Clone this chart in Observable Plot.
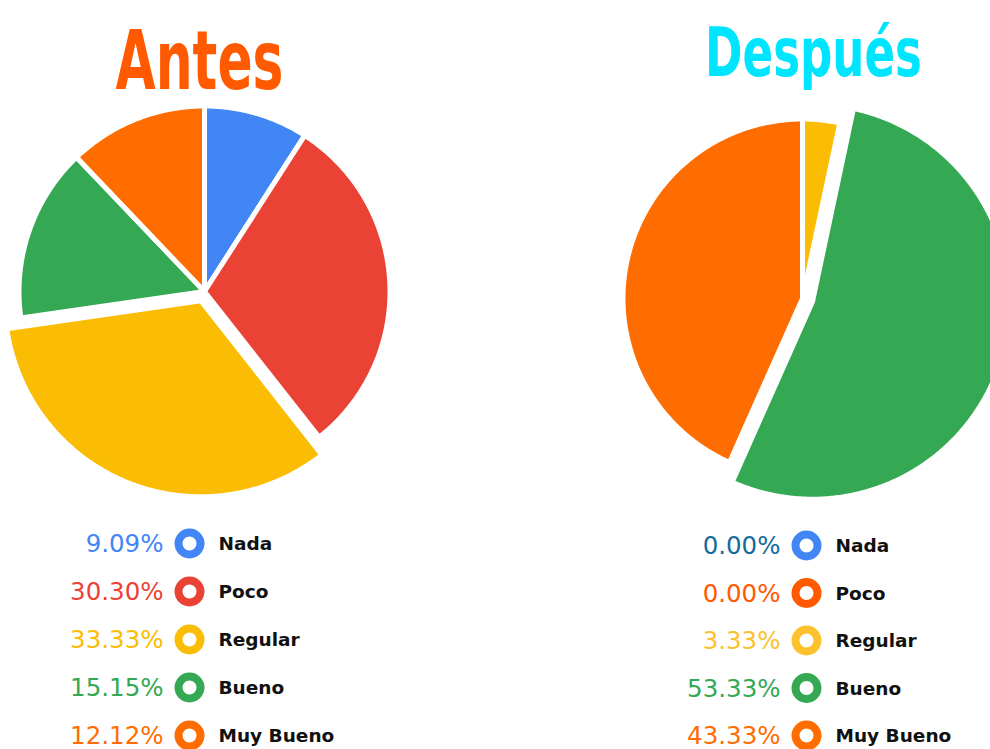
<!DOCTYPE html>
<html><head><meta charset="utf-8">
<script src="https://cdn.jsdelivr.net/npm/d3@7"></script>
<script src="https://cdn.jsdelivr.net/npm/@observablehq/plot@0.6"></script>
<style>html,body{margin:0;padding:0;background:#fff;overflow:hidden}</style>
</head><body><div id="chart"></div>
<script>
// ---- data ----
const categories = ["Nada", "Poco", "Regular", "Bueno", "Muy Bueno"];
const antesValues = [9.09, 30.30, 33.33, 15.15, 12.12];
const despuesValues = [0.00, 0.00, 3.33, 53.33, 43.33];
const antesColors = ["#4285f4", "#ea4335", "#fbbc04", "#34a853", "#ff6d01"];
const despuesColors = ["#4285f4", "#ea4335", "#fbbc04", "#34a853", "#ff6d01"];
const antesDotColors = ["#4285f4", "#ea4335", "#fbbc04", "#34a853", "#ff6d01"];
const despuesDotColors = ["#4285f4", "#ff5a00", "#fdc12e", "#34a853", "#ff6d01"];
const antesPctColors = ["#4285f4", "#ea4335", "#fbbc04", "#34a853", "#ff6d01"];
const despuesPctColors = ["#146c9c", "#ff5a00", "#fdc12e", "#34a853", "#ff6d01"];
const titles = ["Antes", "Después"];
const titleColors = ["#ff5a00", "#00e5ff"];
const explodedSlice = ["Regular", "Bueno"];

// ---- layout ----
const W = 990, H = 749, SW = 5;
const panels = [
  {title: titles[0], tColor: titleColors[0], values: antesValues, colors: antesColors, dots: antesDotColors, pct: antesPctColors,
   cx: 204, cy: 291, r: 183 + SW / 2, rEx: 193.5 + SW / 2, explode: explodedSlice[0], offset: 10,
   tx: 199, ty: 88, tSize: 82, tLen: 168, dotX: 189, row0: 543, rowGap: 48},
  {title: titles[1], tColor: titleColors[1], values: despuesValues, colors: despuesColors, dots: despuesDotColors, pct: despuesPctColors,
   cx: 802, cy: 298, r: 177 + SW / 2, rEx: 195 + SW / 2, explode: explodedSlice[1], offset: 10.5,
   tx: 813, ty: 75, tSize: 67, tLen: 217, dotX: 806, row0: 545, rowGap: 47.5}
];

const slicePts = [];
const legendRows = [];
const titleRows = [];
panels.forEach((p, pi) => {
  titleRows.push({x: p.tx, y: p.ty, text: p.title, color: p.tColor, size: p.tSize, len: p.tLen});
  const arcs = d3.pie().sort(null).value(d => d)(p.values);
  arcs.forEach((a, i) => {
    legendRows.push({
      pct: p.values[i].toFixed(2) + "%", label: categories[i],
      pctColor: p.pct[i], dotColor: p.dots[i],
      dx: p.dotX, y: p.row0 + i * p.rowGap
    });
    if (a.endAngle - a.startAngle <= 0) return;
    const mid = (a.startAngle + a.endAngle) / 2;
    const ex = categories[i] === p.explode;
    const off = ex ? p.offset : 0, R = ex ? p.rEx : p.r;
    const ox = p.cx + off * Math.sin(mid), oy = p.cy - off * Math.cos(mid);
    const id = pi + "-" + i, color = p.colors[i];
    slicePts.push({id, x: ox, y: oy, color});
    const n = Math.max(2, Math.ceil((a.endAngle - a.startAngle) / (Math.PI / 360)));
    for (let k = 0; k <= n; k++) {
      const t = a.startAngle + (a.endAngle - a.startAngle) * k / n;
      slicePts.push({id, x: ox + R * Math.sin(t), y: oy - R * Math.cos(t), color});
    }
    slicePts.push({id, x: ox, y: oy, color});
  });
});

const titleFont = "'DejaVu Sans', sans-serif";
const chart = Plot.plot({
  width: W, height: H, margin: 0,
  x: {domain: [0, W], range: [0, W]},
  y: {domain: [0, H], range: [0, H]},
  color: {type: "identity"},
  axis: null,
  style: {background: "white", overflow: "hidden"},
  marks: [
    Plot.line(slicePts, {x: "x", y: "y", z: "id", fill: "color", stroke: "white", strokeWidth: SW, strokeLinejoin: "round", curve: "linear"}),
    Plot.text(titleRows.slice(0, 1), {x: "x", y: "y", text: "text", fill: "color", fontSize: titleRows[0].size,
      fontFamily: titleFont, fontWeight: "bold", textAnchor: "middle", lineAnchor: "bottom"}),
    Plot.text(titleRows.slice(1), {x: "x", y: "y", text: "text", fill: "color", fontSize: titleRows[1].size,
      fontFamily: titleFont, fontWeight: "bold", textAnchor: "middle", lineAnchor: "bottom"}),
    Plot.text(legendRows, {x: d => d.dx - 26, y: "y", text: "pct", fill: "pctColor", fontSize: 24.5,
      fontFamily: "DejaVu Sans", textAnchor: "end", lineAnchor: "middle", dy: 1}),
    Plot.dot(legendRows, {x: "dx", y: "y", r: 11, stroke: "dotColor", strokeWidth: 8, fill: "white"}),
    Plot.text(legendRows, {x: d => d.dx + 29, y: "y", text: "label", fill: "#111", fontSize: 18.5,
      fontFamily: "DejaVu Sans", fontWeight: "bold", textAnchor: "start", lineAnchor: "middle", dy: 1})
  ]
});
document.getElementById("chart").appendChild(chart);
// squeeze the display titles horizontally to the reference's narrow lettering
chart.querySelectorAll("text").forEach(t => {
  const row = titleRows.find(r => r.text === t.textContent);
  if (row) {
    const w = t.getComputedTextLength();
    const sx = w > 0 ? row.len / w : 1;
    const tr = t.getAttribute("transform");
    if (tr) {
      t.setAttribute("transform", tr + ` scale(${sx},1)`);
    } else {
      const x = +t.getAttribute("x") || 0;
      t.setAttribute("transform", `translate(${x},0) scale(${sx},1) translate(${-x},0)`);
    }
  }
});
</script>
</body></html>
